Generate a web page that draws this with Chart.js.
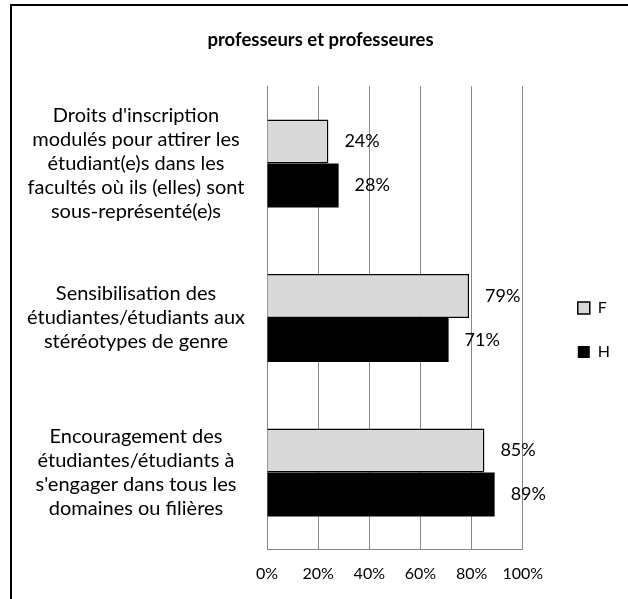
<!DOCTYPE html>
<html>
<head>
<meta charset="utf-8">
<script src="https://cdn.jsdelivr.net/npm/chart.js@4"></script>
<style>
  body { margin: 0; background: #fff; }
  #cadre { position: absolute; left: 10px; top: 4px; width: 700px; height: 700px; border: 2px solid #000; }
  #zone { position: absolute; left: 0; top: 0; width: 628px; height: 599px; }
</style>
</head>
<body>
<div id="cadre"></div>
<div id="zone"><canvas id="mesures" width="628" height="599"></canvas></div>
<script>
// Mesures citées par les professeurs et professeures
const categories = [
    ["Droits d'inscription", "modulés pour attirer les", "étudiant(e)s dans les", "facultés où ils (elles) sont", "sous-représenté(e)s"],
    ["Sensibilisation des", "étudiantes/étudiants aux", "stéréotypes de genre"],
    ["Encouragement des", "étudiantes/étudiants à", "s'engager dans tous les", "domaines ou filières"]
];
const valeursF = [24, 79, 85];
const valeursH = [28, 71, 89];
const graduations = [0, 20, 40, 60, 80, 100];

const police = "Lato, 'Liberation Sans', sans-serif";

// pourcentages écrits à droite de chaque barre
const etiquettes = {
    id: 'etiquettes',
    afterDatasetsDraw(chart) {
        const ctx = chart.ctx;
        ctx.save();
        ctx.font = '18px ' + police;
        ctx.fillStyle = '#000';
        ctx.textBaseline = 'middle';
        ctx.textAlign = 'left';
        chart.data.datasets.forEach((ds, i) => {
            chart.getDatasetMeta(i).data.forEach((barre, j) => {
                ctx.fillText(ds.data[j] + '%', barre.x + 16, barre.y);
            });
        });
        ctx.restore();
    }
};

// titre et légende décalés vers la droite
const decalages = {
    id: 'decalages',
    afterLayout(chart) {
        const lg = chart.legend;
        lg.left += 27; lg.right += 27;
        lg.top += 12; lg.bottom += 12;
        const t = chart.titleBlock;
        t.left += 18; t.right += 18;
    }
};

const data = {
    labels: categories,
    datasets: [{
        label: 'F',
        data: valeursF,
        backgroundColor: '#d9d9d9',
        borderColor: '#000',
        borderWidth: 1.5
    }, {
        label: 'H',
        data: valeursH,
        backgroundColor: '#000',
        borderColor: '#000',
        borderWidth: 0
    }]
};

const config = {
    type: 'bar',
    data: data,
    plugins: [etiquettes, decalages],
    options: {
        indexAxis: 'y',
        responsive: false,
        animation: false,
        layout: { padding: { left: 12, right: 35, top: 20, bottom: 2 } },
        datasets: { bar: { categoryPercentage: 0.57, barPercentage: 1 } },
        scales: {
            x: {
                min: 0,
                max: 100,
                afterBuildTicks: (axe) => { axe.ticks = graduations.map(v => ({ value: v })); },
                afterFit: (axe) => { axe.paddingLeft = 0; axe.paddingRight = 0; },
                ticks: {
                    callback: (v) => v + '%',
                    color: '#000',
                    padding: 14,
                    font: { family: police, size: 16 }
                },
                grid: { color: '#868686', lineWidth: 1, drawTicks: false },
                border: { color: '#868686', width: 1 }
            },
            y: {
                afterFit: (axe) => { axe.width = 255; axe.paddingTop = 0; axe.paddingBottom = 0; },
                grid: { display: false, drawTicks: false },
                border: { color: '#868686', width: 1 },
                ticks: {
                    color: '#000',
                    crossAlign: 'center',
                    padding: 22,
                    font: { family: police, size: 20, lineHeight: 1.2 }
                }
            }
        },
        plugins: {
            title: {
                display: true,
                text: 'professeurs et professeures',
                color: '#000',
                font: { family: police, size: 18.5, weight: 'bold' },
                padding: { top: 9, bottom: 35 }
            },
            legend: {
                position: 'right',
                fullSize: false,
                labels: {
                    color: '#000',
                    boxWidth: 12,
                    boxHeight: 12,
                    padding: 28,
                    font: { family: police, size: 16 }
                }
            },
            tooltip: { enabled: false }
        }
    }
};

const myChart = new Chart(document.getElementById('mesures'), config);
</script>
</body>
</html>
